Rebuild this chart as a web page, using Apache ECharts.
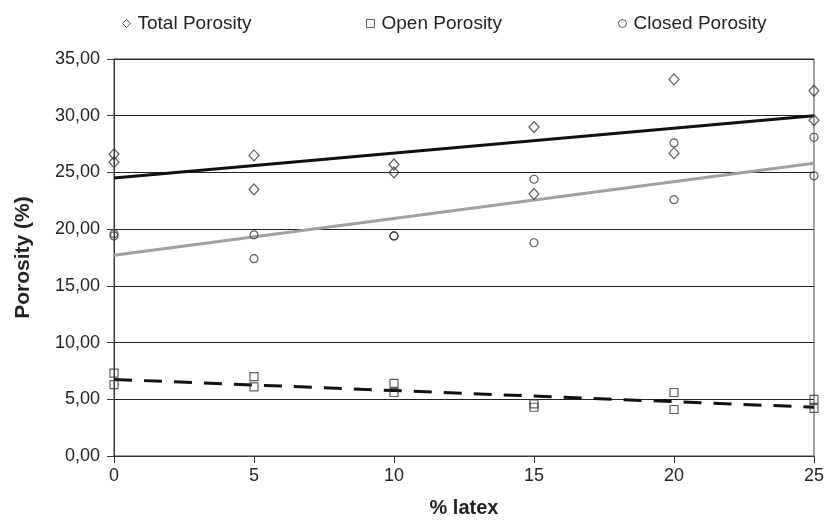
<!DOCTYPE html>
<html>
<head>
<meta charset="utf-8">
<script src="https://cdn.jsdelivr.net/npm/echarts@6/dist/echarts.min.js"></script>
<style>
html,body{margin:0;padding:0;background:#fff;}
#chart{width:827px;height:523px;}
</style>
</head>
<body>
<div id="chart"></div>
<script>
// ---- data ----
const latexX = [0, 0, 5, 5, 10, 10, 15, 15, 20, 20, 25, 25];
const totalPorosity = [26.6, 25.9, 26.5, 23.5, 25.7, 25.0, 29.0, 23.1, 33.2, 26.7, 32.2, 29.6];
const openPorosity = [7.3, 6.3, 7.0, 6.1, 6.4, 5.6, 4.6, 4.3, 5.6, 4.1, 5.0, 4.2];
const closedPorosity = [19.6, 19.4, 19.5, 17.4, 19.4, 19.4, 24.4, 18.8, 27.6, 22.6, 28.1, 24.7];
const trendX = [0, 25];
const totalTrend = [24.5, 30.0];
const closedTrend = [17.7, 25.8];
const openTrend = [6.75, 4.3];
const seriesNames = ['Total Porosity', 'Open Porosity', 'Closed Porosity'];
const xTicks = [0, 5, 10, 15, 20, 25];
const yTicks = [0, 5, 10, 15, 20, 25, 30, 35];

const pairs = (xs, ys) => xs.map((x, i) => [x, ys[i]]);
const font = 'Liberation Sans, Arial, sans-serif';
const mk = '#333';

const chart = echarts.init(document.getElementById('chart'), null, {renderer: 'canvas'});

function legendFor(name, icon, left) {
  return {
    data: [{name: name, icon: icon, itemStyle: {color: '#fff', borderColor: mk, borderWidth: 1}}],
    left: left, top: 9,
    itemWidth: 8, itemHeight: 8,
    textStyle: {fontFamily: font, fontSize: 19, color: '#222', padding: [0, 0, 0, 2]},
    selectedMode: false
  };
}

chart.setOption({
  animation: false,
  backgroundColor: '#fff',
  legend: [
    legendFor(seriesNames[0], 'diamond', 117),
    legendFor(seriesNames[1], 'rect', 361),
    legendFor(seriesNames[2], 'circle', 613)
  ],
  grid: {left: 114, right: 12, top: 59, bottom: 58, show: true, borderColor: '#444', borderWidth: 1},
  xAxis: {
    type: 'value', min: xTicks[0], max: xTicks[xTicks.length - 1], interval: 5,
    name: '% latex', nameLocation: 'middle', nameGap: 42,
    nameTextStyle: {fontFamily: font, fontSize: 20, fontWeight: 'bold', color: '#222'},
    axisLine: {show: true, lineStyle: {color: '#333', width: 1}},
    axisTick: {show: true, length: 7, lineStyle: {color: '#333'}},
    axisLabel: {fontFamily: font, fontSize: 18, color: '#222', margin: 11},
    splitLine: {show: false}
  },
  yAxis: {
    type: 'value', min: yTicks[0], max: yTicks[yTicks.length - 1], interval: 5,
    name: 'Porosity (%)', nameLocation: 'middle', nameGap: 80, nameRotate: 90,
    nameTextStyle: {fontFamily: font, fontSize: 21, fontWeight: 'bold', color: '#222'},
    axisLine: {show: true, lineStyle: {color: '#333', width: 1}},
    axisTick: {show: true, length: 7, lineStyle: {color: '#333'}},
    axisLabel: {fontFamily: font, fontSize: 18, color: '#222', margin: 14,
      formatter: v => v.toFixed(2).replace('.', ',')},
    splitLine: {show: true, lineStyle: {color: '#222', width: 1}}
  },
  series: [
    {name: 'Total trend', type: 'line', data: pairs(trendX, totalTrend), showSymbol: false,
     lineStyle: {color: '#111', width: 3}, z: 3, silent: true},
    {name: 'Closed trend', type: 'line', data: pairs(trendX, closedTrend), showSymbol: false,
     lineStyle: {color: '#a0a0a0', width: 3}, z: 3, silent: true},
    {name: 'Open trend', type: 'line', data: pairs(trendX, openTrend), showSymbol: false,
     lineStyle: {color: '#111', width: 3, type: [18, 12]}, z: 3, silent: true},
    {name: seriesNames[0], type: 'scatter', symbol: 'diamond', symbolSize: [10, 11],
     data: pairs(latexX, totalPorosity),
     itemStyle: {color: 'rgba(255,255,255,0)', borderColor: mk, borderWidth: 1.2}, z: 5},
    {name: seriesNames[1], type: 'scatter', symbol: 'rect', symbolSize: [8, 8],
     data: pairs(latexX, openPorosity),
     itemStyle: {color: 'rgba(255,255,255,0)', borderColor: mk, borderWidth: 1.2}, z: 5},
    {name: seriesNames[2], type: 'scatter', symbol: 'circle', symbolSize: 8,
     data: pairs(latexX, closedPorosity),
     itemStyle: {color: 'rgba(255,255,255,0)', borderColor: mk, borderWidth: 1.2}, z: 5}
  ]
});
</script>
</body>
</html>
